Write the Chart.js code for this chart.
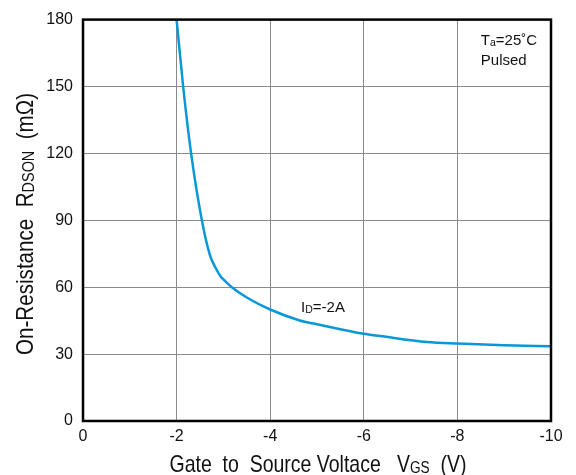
<!DOCTYPE html>
<html>
<head>
<meta charset="utf-8">
<script src="https://cdn.jsdelivr.net/npm/chart.js@4/dist/chart.umd.min.js"></script>
<style>
  html, body { margin: 0; padding: 0; background: #fff; }
  #wrap { width: 576px; height: 475px; }
</style>
</head>
<body>
<div id="wrap"><canvas id="canvas" width="576" height="475"></canvas></div>
<script>
// 曲線データ (VGS [V], RDSON [mΩ])
var vgs   = [-2.0, -2.14, -2.31, -2.54, -2.71, -2.84, -2.95, -3.0, -3.18, -3.5, -4.0, -4.63, -5.0, -6.0, -6.35, -7.35, -8.0, -9.0, -10.0];
var rdson = [180, 150, 120, 90, 74.5, 68.4, 64.6, 63.5, 60, 55.4, 50, 45.1, 43.4, 39.1, 38.1, 35.4, 34.7, 34.0, 33.5];

var xTicks = [0, -2, -4, -6, -8, -10];
var yTicks = [0, 30, 60, 90, 120, 150, 180];

var plain = '"Liberation Sans", Arial, sans-serif';

var points = [];
for (var i = 0; i < vgs.length; i++) {
  points.push({ x: vgs[i], y: rdson[i] });
}

// 下付き文字つきテキストを描く (fitW があれば横幅をそこに合わせる)
function drawParts(ctx, parts, x, y, size, align, fitW) {
  var w = 0;
  parts.forEach(function(p){
    ctx.font = (p.sub ? size * 0.7 : size) + 'px ' + plain;
    w += ctx.measureText(p.t).width;
  });
  var sx = fitW ? fitW / w : 1;
  ctx.save();
  ctx.translate(align === 'center' ? x - w * sx / 2 : x, y);
  ctx.scale(sx, 1);
  var cx = 0;
  parts.forEach(function(p){
    ctx.font = (p.sub ? size * 0.7 : size) + 'px ' + plain;
    ctx.fillText(p.t, cx, p.sub ? size * 0.05 : 0);
    cx += ctx.measureText(p.t).width;
  });
  ctx.restore();
}

var textPlugin = {
  id: 'texts',
  afterDraw: function(chart){
    var ctx = chart.ctx;
    var a = chart.chartArea;
    var xs = chart.scales.x, ys = chart.scales.y;
    ctx.save();
    // 枠
    ctx.strokeStyle = '#000';
    ctx.lineWidth = 2.5;
    ctx.strokeRect(a.left, a.top, a.right - a.left, a.bottom - a.top);

    ctx.fillStyle = '#111';
    ctx.textBaseline = 'alphabetic';
    // x軸タイトル
    drawParts(ctx, [{t:'Gate  to  Source Voltace   V'}, {t:'GS', sub:true}, {t:'  (V)'}],
      318, 472, 24, 'center', 297);
    // y軸タイトル
    ctx.save();
    ctx.translate(33, 224);
    ctx.rotate(-Math.PI / 2);
    drawParts(ctx, [{t:'On-Resistance  R'}, {t:'DSON', sub:true}, {t:'  (mΩ)'}],
      0, 0, 24, 'center', 262);
    ctx.restore();
    // 注記
    drawParts(ctx, [{t:'T'}, {t:'a', sub:true}, {t:'=25˚C'}],
      xs.getPixelForValue(-8.5), ys.getPixelForValue(168.5), 15, 'left');
    drawParts(ctx, [{t:'Pulsed'}],
      xs.getPixelForValue(-8.5), ys.getPixelForValue(159.6), 15, 'left');
    drawParts(ctx, [{t:'I'}, {t:'D', sub:true}, {t:'=-2A'}],
      xs.getPixelForValue(-4.66), ys.getPixelForValue(48.8), 15, 'left');
    ctx.restore();
  }
};

var config = {
  type: 'line',
  data: {
    datasets: [{
      data: points,
      borderColor: '#0898da',
      borderWidth: 2.5,
      pointRadius: 0,
      fill: false,
      cubicInterpolationMode: 'monotone'
    }]
  },
  options: {
    responsive: false,
    animation: false,
    layout: { padding: { left: 0, right: 25, top: 15, bottom: 0 } },
    plugins: { legend: { display: false }, tooltip: { enabled: false } },
    scales: {
      x: {
        type: 'linear',
        reverse: true,
        min: -10, max: 0,
        afterBuildTicks: function(s){ s.ticks = xTicks.map(function(v){ return { value: v }; }); },
        afterFit: function(s){ s.height = 54; },
        grid: { color: '#8a8a8a', lineWidth: 1, drawTicks: false },
        border: { display: false },
        ticks: { color: '#111', padding: 6, maxRotation: 0, font: { family: plain, size: 16 } }
      },
      y: {
        type: 'linear',
        min: 0, max: 180,
        afterBuildTicks: function(s){ s.ticks = yTicks.map(function(v){ return { value: v }; }); },
        afterFit: function(s){ s.width = 83; },
        grid: { color: '#8a8a8a', lineWidth: 1, drawTicks: false },
        border: { display: false },
        ticks: { color: '#111', padding: 10, font: { family: plain, size: 16 } }
      }
    }
  },
  plugins: [textPlugin]
};

var ctx = document.getElementById('canvas').getContext('2d');
window.myLine = new Chart(ctx, config);
</script>
</body>
</html>
